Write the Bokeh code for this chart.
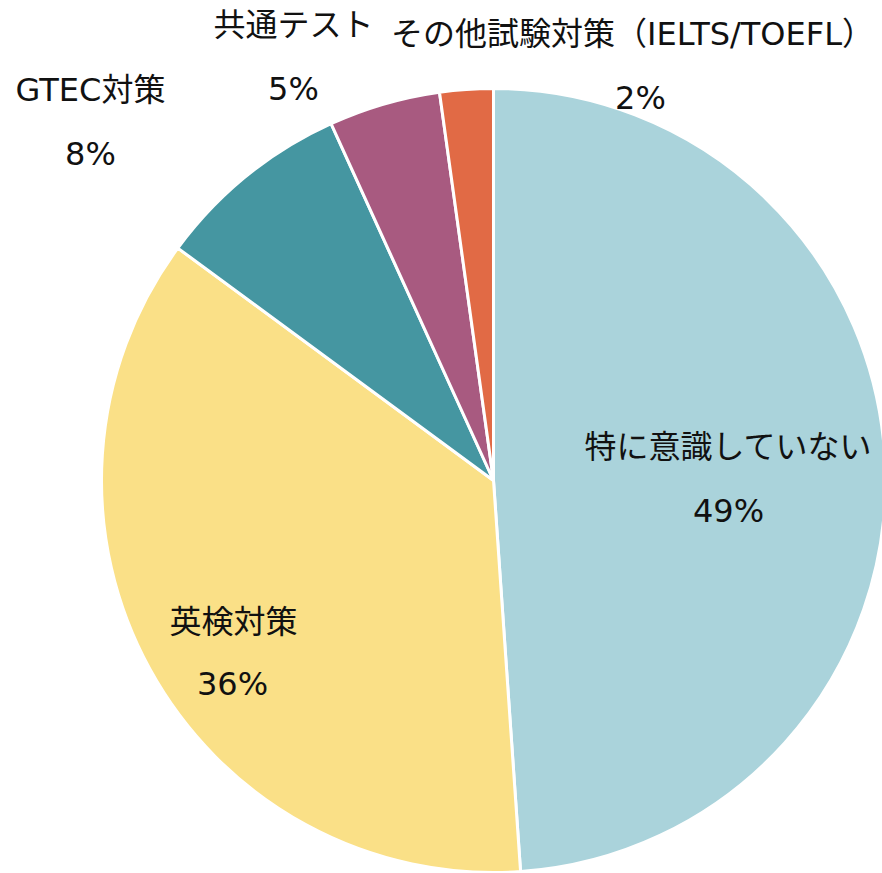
import math
from bokeh.plotting import figure
from bokeh.models import ColumnDataSource, Range1d
from bokeh.core.properties import value
from bokeh.embed import file_html
from bokeh.resources import INLINE

# ---- data ----
categories = ["特に意識していない", "英検対策", "GTEC対策", "共通テスト", "その他試験対策（IELTS/TOEFL）"]
shares = [48.9, 36.2, 8.1, 4.6, 2.2]
colors = ["#aad3db", "#fae087", "#4596a1", "#a85a80", "#e16a45"]

# label anchors (data units, pie centre = 0,0)
name_x = [235, -260, -403, -200, 139]
name_y = [34, -141, 391, 456, 447]
pct_x = [235, -261, -403, -200, 147]
pct_y = [-30, -203, 327, 392, 383]

R = 392

total = sum(shares)
starts, ends = [], []
a = math.pi / 2
for s in shares:
    starts.append(a)
    a -= s / total * 2 * math.pi
    ends.append(a)

pct_text = [f"{int(s / total * 100 + 0.5)}%" for s in shares]

W, H = 882, 873
p = figure(width=W, height=H, output_backend="svg", toolbar_location=None,
           x_range=Range1d(-493, -493 + W), y_range=Range1d(480 - H, 480),
           min_border=0)
p.axis.visible = False
p.grid.visible = False
p.outline_line_color = None
p.background_fill_color = "white"
p.border_fill_color = "white"

src = ColumnDataSource(dict(start=starts, end=ends, color=colors, cat=categories))
p.wedge(x=0, y=0, radius=R, start_angle="start", end_angle="end", direction="clock",
        fill_color="color", line_color="white", line_width=3, source=src)

font = value("DejaVu Sans, Noto Sans CJK JP")
p.text(x=name_x, y=name_y, text=categories, text_font=font, text_font_size="32px",
       text_align="center", text_baseline="middle", text_color="#111111")
p.text(x=pct_x, y=pct_y, text=pct_text, text_font=font, text_font_size="32px",
       text_align="center", text_baseline="middle", text_color="#111111")

open("out.html", "w").write(file_html(p, INLINE))
